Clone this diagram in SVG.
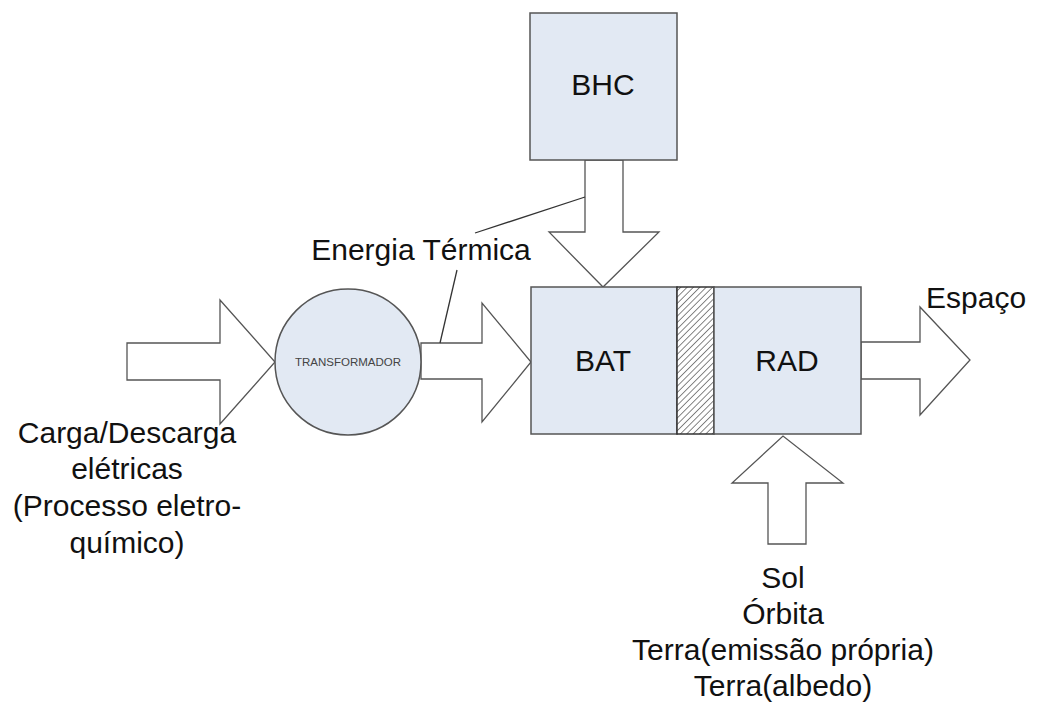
<svg xmlns="http://www.w3.org/2000/svg" width="1061" height="707" viewBox="0 0 1061 707">
<style>
.box{fill:#e2e9f3;stroke:#555;stroke-width:1.5}
.arr{fill:#fff;stroke:#555;stroke-width:1.3}
.lead{fill:none;stroke:#333;stroke-width:1.3}
.t{font-family:"Liberation Sans",Arial,sans-serif;font-size:30px;fill:#111;text-anchor:middle}
.ts{font-family:"Liberation Sans",Arial,sans-serif;font-size:11.5px;fill:#444;text-anchor:middle}
</style>
<defs>
<pattern id="hatch" width="4.5" height="4.5" patternUnits="userSpaceOnUse" patternTransform="rotate(45)">
<line x1="0" y1="0" x2="0" y2="4.5" stroke="#222" stroke-width="1.1"/>
</pattern>
</defs>
<rect width="1061" height="707" fill="#fff"/>
<g id="connectors">
<polygon class="arr" points="585,160 623,160 623,232 659,232 603,287 549,232 585,232"/>
<polygon class="arr" points="127,343 220,343 220,300 275,362 220,424 220,380 127,380"/>
<polygon class="arr" points="421,343 482,343 482,303 531,362 482,422 482,379 421,379"/>
<polygon class="arr" points="861,342 920,342 920,307 970,360 920,415 920,379 861,379"/>
<polygon class="arr" points="768,544 806,544 806,483 843,483 783,436 732,483 768,483"/>
<line class="lead" x1="475" y1="233" x2="585" y2="197"/>
<line class="lead" x1="457" y1="270" x2="440" y2="343"/>
</g>
<g id="bhc">
<rect class="box" x="530" y="13" width="147" height="147"/>
<text class="t" x="603" y="95">BHC</text>
</g>
<g id="bat">
<rect class="box" x="531" y="287" width="146" height="147"/>
<text class="t" x="603" y="371">BAT</text>
</g>
<g id="isolante">
<rect x="677" y="287" width="37" height="147" fill="#fff"/>
<rect x="677" y="287" width="37" height="147" fill="url(#hatch)" stroke="#333" stroke-width="1.5"/>
</g>
<g id="rad">
<rect class="box" x="714" y="287" width="147" height="147"/>
<text class="t" x="787" y="371">RAD</text>
</g>
<g id="transformador">
<circle class="box" cx="348" cy="362" r="73"/>
<text class="ts" x="348" y="366">TRANSFORMADOR</text>
</g>
<g id="labels">
<text class="t" x="421" y="260">Energia Térmica</text>
<text class="t" x="926" y="308" style="text-anchor:start">Espaço</text>
<text class="t" x="127" y="443">Carga/Descarga</text>
<text class="t" x="127" y="479">elétricas</text>
<text class="t" x="127" y="516">(Processo eletro-</text>
<text class="t" x="127" y="553">químico)</text>
<text class="t" x="783" y="588">Sol</text>
<text class="t" x="783" y="624">Órbita</text>
<text class="t" x="783" y="660">Terra(emissão própria)</text>
<text class="t" x="783" y="696">Terra(albedo)</text>
</g>
</svg>
